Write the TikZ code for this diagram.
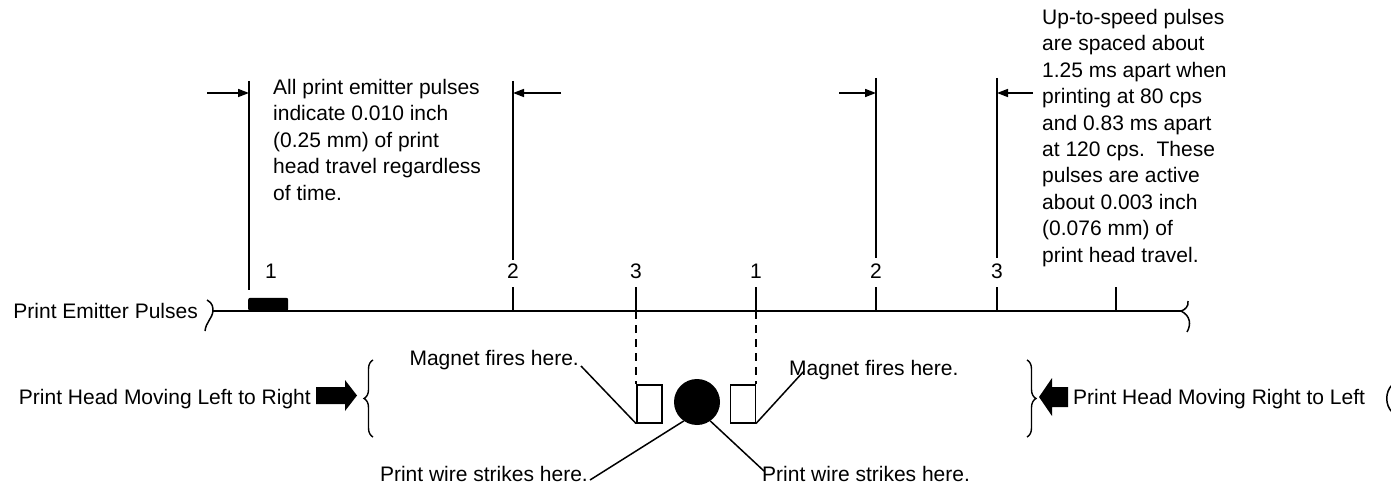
\documentclass[tikz,border=0pt]{standalone}
\usepackage{fontspec}
\setmainfont{Liberation Sans}
\usetikzlibrary{arrows.meta,decorations.pathreplacing}
\begin{document}
\begin{tikzpicture}[x=1pt,y=-1pt,
  txt/.style={font=\fontsize{21}{26.4}\selectfont, inner sep=0pt},
  ln/.style={line width=1.5pt},
  ax/.style={line width=2.2pt},
  dimarrow/.style={line width=1.6pt,-{Triangle[length=11pt,width=8pt]}},
  dsh/.style={line width=1.5pt,dash pattern=on 8pt off 6pt},
  brc/.style={line width=1.4pt,decorate,decoration={brace,amplitude=9pt,aspect=0.5}},
  blk/.style={fill=black,draw=none},
]
\useasboundingbox (0,0) rectangle (1391,486);

% ---------- time line ----------
\node[txt,anchor=base east] (pep) at (198,318) {Print Emitter Pulses};
\coordinate (axL) at (213,311);
\coordinate (axR) at (1181,311);
\draw[ax] (axL) -- (axR);
% small braces on the axis ends
\draw[ln] (207,300) .. controls (213,303) and (213,308) .. (axL) .. controls (212,319) and (206,322) .. (205,331);
\draw[ln] (1188,301) .. controls (1189,306) and (1185,310) .. (axR) .. controls (1191,316) and (1191,325) .. (1187,332);

% pulse 1
\node[blk,rounded corners=2pt,minimum width=40pt,minimum height=13pt,inner sep=0pt,anchor=south west] (p1) at (248,311) {};

% ticks
\foreach \n/\x in {t2/513,t3/636,t1b/756,t2b/876,t3b/997,t4/1116}{
  \coordinate (\n top) at (\x,287);
  \coordinate (\n) at (\x,311);
  \draw[ln] (\n top) -- (\n);
}
% tick labels
\node[txt,anchor=base] (l1) at (271,279) {1};
\node[txt,anchor=base] (l2) at (513,279) {2};
\node[txt,anchor=base] (l3) at (636,279) {3};
\node[txt,anchor=base] (l1b) at (756,279) {1};
\node[txt,anchor=base] (l2b) at (876,279) {2};
\node[txt,anchor=base] (l3b) at (997,279) {3};

% dimension lines
\coordinate (d1a) at (249,81);  \coordinate (d1b) at (249,290);
\coordinate (d2a) at (513,81);  \coordinate (d2b) at (513,260);
\coordinate (d3a) at (876,78);  \coordinate (d3b) at (876,258);
\coordinate (d4a) at (997,78);  \coordinate (d4b) at (997,258);
\draw[ln] (d1a) -- (d1b);
\draw[ln] (d2a) -- (d2b);
\draw[ln] (d3a) -- (d3b);
\draw[ln] (d4a) -- (d4b);
\coordinate (a1s) at (207,93);  \coordinate (a1e) at (249,93);
\coordinate (a2s) at (561,93);  \coordinate (a2e) at (513,93);
\coordinate (a3s) at (839,93);  \coordinate (a3e) at (876,93);
\coordinate (a4s) at (1033,93); \coordinate (a4e) at (997,93);
\draw[dimarrow] (a1s) -- (a1e);
\draw[dimarrow] (a2s) -- (a2e);
\draw[dimarrow] (a3s) -- (a3e);
\draw[dimarrow] (a4s) -- (a4e);

% notes
\node[txt,anchor=north west,align=left] (noteL) at (273,79)
  {All print emitter pulses\\indicate 0.010 inch\\(0.25 mm) of print\\head travel regardless\\of time.};
\node[txt,anchor=north west,align=left] (noteR) at (1042,9)
  {Up-to-speed pulses\\are spaced about\\1.25 ms apart when\\printing at 80 cps\\and 0.83 ms apart\\at 120 cps.\ \ These\\pulses are active\\about 0.003 inch\\(0.076 mm) of\\print head travel.};

% ---------- print head ----------
\node[draw,line width=1.5pt,minimum width=25pt,minimum height=38pt,inner sep=0pt,anchor=north west] (magL) at (636,384) {};
\node[draw,line width=1.5pt,minimum width=25pt,minimum height=38pt,inner sep=0pt,anchor=north east] (magR) at (756,384) {};
\node[circle,fill=black,minimum size=46pt,inner sep=0pt] (wire) at (697,402) {};
\draw[dsh] (t3) -- (magL.north west);
\draw[dsh] (t1b) -- (magR.north east);

\node[txt,anchor=base east] (mfL) at (579,365) {Magnet fires here.};
\node[txt,anchor=base west] (mfR) at (789,375) {Magnet fires here.};
\node[txt,anchor=base east] (pwL) at (588,481) {Print wire strikes here.};
\node[txt,anchor=base west] (pwR) at (762,481) {Print wire strikes here.};

\coordinate (mfLend) at (581,366);
\coordinate (mfRend) at (804,371);
\coordinate (pwLend) at (590,480);
\coordinate (pwRend) at (764,471);
\draw[ln] (mfLend) -- (magL.south west);
\draw[ln] (mfRend) -- (magR.south east);
\draw[ln] (pwLend) -- (wire.-125);
\draw[ln] (pwRend) -- (wire.-55);

% left-to-right
\node[txt,anchor=base east] (lr) at (311,404) {Print Head Moving Left to Right};
\fill (316,387) -- (345,387) -- (345,380) -- (357,395.5) -- (345,411) -- (345,404) -- (316,404) -- cycle;
\draw[brc] (373,437) -- (373,360);

% right-to-left
\draw[brc] (1027,360) -- (1027,437);
\fill (1068,387) -- (1052,387) -- (1052,378) -- (1039,397) -- (1052,416) -- (1052,407) -- (1068,407) -- cycle;
\node[txt,anchor=base west] (rl) at (1073,404) {Print Head Moving Right to Left};
\draw[ln] (1392,385) .. controls (1385,392) and (1385,405) .. (1392,412);
\end{tikzpicture}
\end{document}
